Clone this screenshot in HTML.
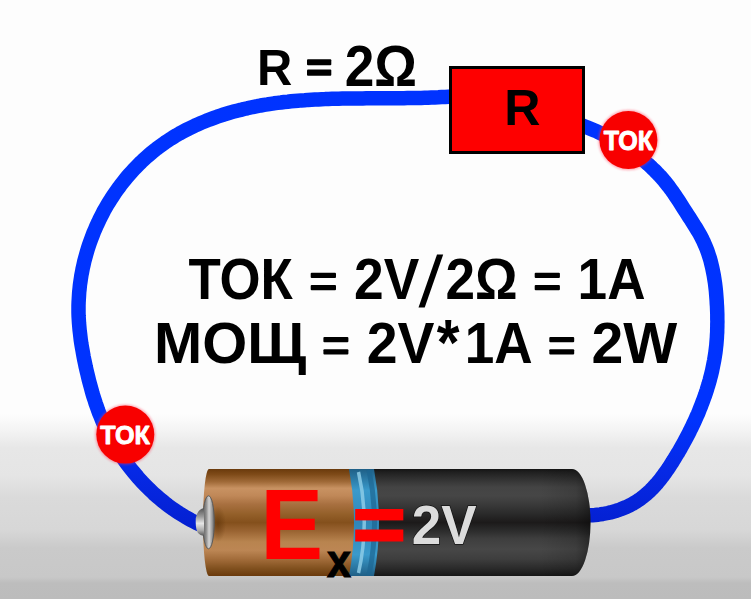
<!DOCTYPE html>
<html><head><meta charset="utf-8">
<style>
html,body{margin:0;padding:0;background:#fdfdfd;}
body{width:751px;height:599px;overflow:hidden;position:relative;}
svg{position:absolute;left:0;top:0;display:block;}
text{font-family:"Liberation Sans",sans-serif;font-weight:bold;font-size:100px;}
</style></head><body>
<svg width="751" height="599" viewBox="0 0 751 599">
<defs>
<linearGradient id="bg" x1="0" y1="0" x2="0" y2="599" gradientUnits="userSpaceOnUse">
<stop offset="0" stop-color="#fdfdfd"/>
<stop offset="0.6912" stop-color="#fdfdfd"/>
<stop offset="0.7195" stop-color="#f3f3f3"/>
<stop offset="0.7479" stop-color="#e7e7e7"/>
<stop offset="0.7947" stop-color="#e5e5e5"/>
<stop offset="0.8314" stop-color="#dadada"/>
<stop offset="0.8848" stop-color="#d7d7d7"/>
<stop offset="0.9149" stop-color="#cacaca"/>
<stop offset="0.9633" stop-color="#c8c8c8"/>
<stop offset="0.9733" stop-color="#bdbdbd"/>
<stop offset="1" stop-color="#bcbcbc"/>
</linearGradient>
<linearGradient id="wire" x1="0" y1="0" x2="0" y2="599" gradientUnits="userSpaceOnUse">
<stop offset="0" stop-color="#0033ff"/>
<stop offset="0.7012" stop-color="#0033fe"/>
<stop offset="0.7846" stop-color="#0629e6"/>
<stop offset="0.8765" stop-color="#0420d2"/>
<stop offset="1" stop-color="#0420d2"/>
</linearGradient>
<linearGradient id="cu" x1="0" y1="469" x2="0" y2="576" gradientUnits="userSpaceOnUse">
<stop offset="0" stop-color="#6a3a0c"/>
<stop offset="0.05" stop-color="#7e4a18"/>
<stop offset="0.12" stop-color="#a06a38"/>
<stop offset="0.18" stop-color="#c89262"/>
<stop offset="0.25" stop-color="#c08858"/>
<stop offset="0.33" stop-color="#a87040"/>
<stop offset="0.42" stop-color="#94602a"/>
<stop offset="0.50" stop-color="#84501c"/>
<stop offset="0.58" stop-color="#9a6432"/>
<stop offset="0.68" stop-color="#b8844f"/>
<stop offset="0.76" stop-color="#bc8654"/>
<stop offset="0.85" stop-color="#a06a38"/>
<stop offset="0.93" stop-color="#80501e"/>
<stop offset="1" stop-color="#6a3a0c"/>
</linearGradient>
<linearGradient id="bk" x1="0" y1="469" x2="0" y2="576" gradientUnits="userSpaceOnUse">
<stop offset="0" stop-color="#141414"/>
<stop offset="0.03" stop-color="#202020"/>
<stop offset="0.10" stop-color="#333333"/>
<stop offset="0.17" stop-color="#444444"/>
<stop offset="0.25" stop-color="#464646"/>
<stop offset="0.33" stop-color="#3a3a3a"/>
<stop offset="0.42" stop-color="#2a2a2a"/>
<stop offset="0.50" stop-color="#1c1a1a"/>
<stop offset="0.57" stop-color="#2a2a2a"/>
<stop offset="0.65" stop-color="#3e3e3e"/>
<stop offset="0.75" stop-color="#474747"/>
<stop offset="0.84" stop-color="#3e3e3e"/>
<stop offset="0.93" stop-color="#2a2a2a"/>
<stop offset="1" stop-color="#161616"/>
</linearGradient>
<linearGradient id="rim" x1="540" y1="0" x2="591" y2="0" gradientUnits="userSpaceOnUse">
<stop offset="0" stop-color="#000" stop-opacity="0"/>
<stop offset="0.7" stop-color="#000" stop-opacity="0.12"/>
<stop offset="1" stop-color="#000" stop-opacity="0.4"/>
</linearGradient>
<linearGradient id="bl" x1="0" y1="469" x2="0" y2="576" gradientUnits="userSpaceOnUse">
<stop offset="0" stop-color="#1f5f86"/>
<stop offset="0.2" stop-color="#3a9acb"/>
<stop offset="0.5" stop-color="#2f86b8"/>
<stop offset="0.8" stop-color="#3a9acb"/>
<stop offset="1" stop-color="#1f5f86"/>
</linearGradient>
<linearGradient id="metal" x1="0" y1="0" x2="1" y2="0">
<stop offset="0" stop-color="#5e5e5e"/>
<stop offset="0.3" stop-color="#8e8e8e"/>
<stop offset="0.55" stop-color="#d4d4d4"/>
<stop offset="0.75" stop-color="#a8a8a8"/>
<stop offset="1" stop-color="#666"/>
</linearGradient>
<linearGradient id="nub" x1="0" y1="0" x2="0" y2="1">
<stop offset="0" stop-color="#555"/>
<stop offset="0.3" stop-color="#999"/>
<stop offset="0.55" stop-color="#e6e6e6"/>
<stop offset="0.8" stop-color="#aaa"/>
<stop offset="1" stop-color="#555"/>
</linearGradient>
<radialGradient id="shadow" cx="0.5" cy="0.5" r="0.5">
<stop offset="0" stop-color="#5a3006" stop-opacity="0.55"/>
<stop offset="1" stop-color="#5a3006" stop-opacity="0"/>
</radialGradient>
<filter id="soft" x="-20%" y="-20%" width="140%" height="140%"><feGaussianBlur stdDeviation="0.9"/></filter>
</defs>
<rect x="0" y="0" width="751" height="599" fill="url(#bg)"/>
<path d="M452.0,96.5 L448.6,96.7 L445.2,96.9 L441.7,97.1 L438.3,97.3 L434.9,97.4 L431.4,97.5 L428.0,97.7 L424.6,97.8 L421.1,97.9 L417.7,98.0 L414.3,98.0 L410.8,98.1 L407.4,98.1 L404.0,98.2 L400.5,98.2 L397.1,98.2 L393.6,98.2 L390.2,98.3 L386.8,98.3 L383.3,98.3 L379.9,98.3 L376.5,98.3 L373.0,98.3 L369.6,98.3 L366.2,98.3 L362.8,98.4 L359.3,98.4 L355.9,98.4 L352.5,98.4 L349.1,98.5 L345.6,98.5 L342.2,98.6 L338.8,98.7 L335.4,98.7 L331.9,98.8 L328.5,98.9 L325.1,99.1 L321.7,99.2 L318.3,99.4 L314.9,99.5 L311.5,99.7 L308.1,99.9 L304.7,100.2 L301.3,100.4 L297.9,100.7 L294.5,101.0 L291.1,101.3 L287.7,101.7 L284.3,102.0 L280.9,102.5 L277.5,102.9 L274.1,103.3 L270.7,103.8 L267.4,104.4 L264.0,104.9 L260.6,105.5 L257.2,106.2 L253.9,106.8 L250.5,107.5 L247.2,108.3 L243.8,109.0 L240.5,109.9 L237.1,110.7 L233.8,111.6 L230.4,112.5 L227.1,113.5 L223.8,114.5 L220.5,115.6 L217.2,116.7 L214.0,117.9 L210.7,119.1 L207.5,120.3 L204.3,121.6 L201.1,122.9 L197.9,124.3 L194.8,125.7 L191.7,127.2 L188.6,128.7 L185.5,130.3 L182.5,131.9 L179.5,133.5 L176.5,135.2 L173.6,137.0 L170.7,138.8 L167.8,140.7 L165.0,142.6 L162.2,144.6 L159.4,146.6 L156.7,148.6 L154.0,150.7 L151.4,152.9 L148.8,155.1 L146.2,157.4 L143.7,159.7 L141.2,162.0 L138.8,164.4 L136.4,166.8 L134.0,169.3 L131.7,171.8 L129.4,174.4 L127.2,176.9 L125.0,179.6 L122.9,182.2 L120.8,184.9 L118.8,187.7 L116.7,190.5 L114.8,193.3 L112.9,196.1 L111.0,199.0 L109.2,201.9 L107.4,204.8 L105.7,207.8 L104.0,210.7 L102.4,213.8 L100.9,216.8 L99.3,219.9 L97.9,223.0 L96.4,226.1 L95.1,229.2 L93.7,232.4 L92.5,235.6 L91.3,238.8 L90.1,242.0 L89.0,245.2 L87.9,248.5 L86.9,251.8 L86.0,255.1 L85.1,258.4 L84.2,261.7 L83.5,265.0 L82.7,268.4 L82.1,271.7 L81.4,275.1 L80.9,278.5 L80.4,281.9 L79.9,285.3 L79.6,288.7 L79.2,292.1 L79.0,295.5 L78.8,298.9 L78.6,302.4 L78.5,305.8 L78.5,309.2 L78.5,312.6 L78.6,316.1 L78.8,319.5 L79.0,322.9 L79.3,326.4 L79.6,329.8 L80.0,333.2 L80.4,336.6 L80.8,340.1 L81.3,343.5 L81.9,346.9 L82.5,350.3 L83.1,353.7 L83.7,357.1 L84.4,360.5 L85.1,363.8 L85.8,367.2 L86.6,370.6 L87.4,373.9 L88.2,377.2 L89.0,380.6 L89.9,383.9 L90.8,387.2 L91.7,390.5 L92.6,393.8 L93.6,397.0 L94.7,400.3 L95.7,403.5 L96.9,406.8 L98.0,410.0 L99.2,413.2 L100.5,416.3 L101.8,419.5 L103.1,422.6 L104.5,425.7 L106.0,428.8 L107.5,431.9 L109.1,434.9 L110.6,437.9 L112.3,440.9 L114.0,443.9 L115.7,446.9 L117.5,449.8 L119.4,452.7 L121.2,455.5 L123.2,458.4 L125.1,461.2 L127.1,463.9 L129.2,466.7 L131.3,469.4 L133.5,472.0 L135.7,474.7 L137.9,477.3 L140.2,479.8 L142.5,482.4 L144.9,484.8 L147.3,487.3 L149.7,489.7 L152.2,492.0 L154.7,494.4 L157.3,496.6 L159.9,498.9 L162.5,501.0 L165.2,503.2 L167.9,505.3 L170.7,507.3 L173.5,509.3 L176.3,511.2 L179.2,513.1 L182.1,514.9 L185.0,516.7 L188.0,518.4 L191.0,520.1 L194.0,521.7 L197.1,523.3 L200.2,524.8" fill="none" stroke="url(#wire)" stroke-width="14.5" stroke-linejoin="round"/>
<path d="M582.0,125.4 L584.4,126.3 L586.8,127.2 L589.2,128.2 L591.6,129.2 L594.0,130.2 L596.3,131.2 L598.7,132.3 L601.0,133.4 L603.3,134.5 L605.7,135.7 L608.0,136.9 L610.2,138.1 L612.5,139.3 L614.8,140.6 L617.0,141.8 L619.2,143.2 L621.4,144.5 L623.6,145.9 L625.8,147.3 L628.0,148.7 L630.1,150.1 L632.2,151.6 L634.3,153.1 L636.4,154.6 L638.4,156.2 L640.4,157.8 L642.4,159.4 L644.4,161.0 L646.3,162.7 L648.3,164.4 L650.2,166.1 L652.0,167.9 L653.9,169.7 L655.7,171.5 L657.5,173.3 L659.2,175.2 L661.0,177.0 L662.7,179.0 L664.3,180.9 L665.9,182.9 L667.5,184.9 L669.1,186.9 L670.6,189.0 L672.1,191.0 L673.6,193.1 L675.1,195.3 L676.5,197.4 L677.9,199.5 L679.3,201.7 L680.7,203.9 L682.1,206.1 L683.5,208.3 L684.9,210.4 L686.3,212.6 L687.7,214.8 L689.1,217.0 L690.5,219.2 L691.9,221.4 L693.3,223.6 L694.7,225.8 L696.1,228.0 L697.4,230.2 L698.7,232.4 L700.0,234.6 L701.2,236.9 L702.3,239.2 L703.5,241.5 L704.5,243.8 L705.5,246.1 L706.5,248.5 L707.4,250.9 L708.2,253.3 L709.0,255.7 L709.8,258.1 L710.5,260.5 L711.1,263.0 L711.7,265.5 L712.3,268.0 L712.8,270.5 L713.3,273.0 L713.8,275.5 L714.2,278.0 L714.6,280.6 L715.0,283.1 L715.3,285.7 L715.6,288.2 L715.9,290.8 L716.1,293.4 L716.3,295.9 L716.5,298.5 L716.7,301.1 L716.8,303.7 L717.0,306.3 L717.1,308.9 L717.2,311.5 L717.3,314.0 L717.3,316.6 L717.3,319.2 L717.4,321.8 L717.3,324.4 L717.3,327.0 L717.2,329.6 L717.2,332.1 L717.0,334.7 L716.9,337.3 L716.7,339.8 L716.5,342.4 L716.3,345.0 L716.0,347.5 L715.7,350.1 L715.4,352.6 L715.0,355.1 L714.6,357.7 L714.2,360.2 L713.7,362.7 L713.2,365.2 L712.7,367.7 L712.2,370.2 L711.6,372.7 L711.0,375.2 L710.3,377.7 L709.7,380.2 L709.0,382.6 L708.3,385.1 L707.5,387.5 L706.8,390.0 L706.0,392.4 L705.2,394.9 L704.3,397.3 L703.4,399.7 L702.5,402.1 L701.6,404.5 L700.7,406.9 L699.7,409.3 L698.8,411.7 L697.8,414.1 L696.7,416.4 L695.7,418.8 L694.6,421.2 L693.5,423.5 L692.4,425.8 L691.3,428.2 L690.1,430.5 L689.0,432.8 L687.8,435.1 L686.6,437.4 L685.4,439.7 L684.2,441.9 L682.9,444.2 L681.6,446.5 L680.4,448.7 L679.1,451.0 L677.8,453.2 L676.4,455.4 L675.1,457.6 L673.7,459.8 L672.4,462.0 L671.0,464.2 L669.6,466.4 L668.2,468.5 L666.7,470.6 L665.2,472.7 L663.7,474.8 L662.2,476.8 L660.7,478.9 L659.1,480.8 L657.5,482.8 L655.8,484.7 L654.1,486.6 L652.4,488.4 L650.6,490.2 L648.8,491.9 L646.9,493.6 L645.0,495.2 L643.1,496.8 L641.1,498.3 L639.0,499.8 L636.9,501.2 L634.7,502.6 L632.5,503.9 L630.2,505.1 L627.9,506.2 L625.5,507.3 L623.1,508.3 L620.6,509.3 L618.1,510.2 L615.6,511.0 L613.0,511.7 L610.5,512.4 L607.9,513.0 L605.3,513.5 L602.7,514.0 L600.1,514.4 L597.6,514.7 L595.0,515.0 L592.4,515.2 L589.9,515.3 L587.4,515.4 L584.9,515.3" fill="none" stroke="url(#wire)" stroke-width="14.5" stroke-linejoin="round"/>
<!-- resistor -->
<rect x="450.5" y="67.5" width="133" height="85" fill="#fe0000" stroke="#000" stroke-width="3"/>
<!-- battery -->
<path d="M209,469 L351,469 Q360,522.5 351,576 L209,576 A6,53.5 0 0 1 209,469 Z" fill="url(#cu)"/>
<ellipse cx="218" cy="524" rx="8" ry="18" fill="url(#shadow)"/>
<path d="M349,469 L375,469 Q385,522.5 375,576 L349,576 Q359,522.5 349,469 Z" fill="url(#bl)"/>
<path d="M369,470 Q380,522.5 369,575" fill="none" stroke="#1d6592" stroke-width="5" opacity="0.7"/>
<path d="M358.5,472 Q370,522.5 358.5,573" fill="none" stroke="#8ccbe6" stroke-width="3.5" opacity="0.85"/>
<path d="M374,469 L572,469 A18.5,53.5 0 0 1 572,576 L374,576 Q384,522.5 374,469 Z" fill="url(#bk)"/>
<path d="M540,469 L572,469 A18.5,53.5 0 0 1 572,576 L540,576 Z" fill="url(#rim)"/>
<ellipse cx="208.5" cy="522.3" rx="5.8" ry="26.5" fill="url(#metal)" stroke="#5a5a5a" stroke-width="1"/>
<path d="M204,508 Q199,509 197,514 Q195.5,517 195.7,522 Q195.8,530 198,533 Q200,535.5 204,536 Z" fill="url(#nub)"/>
<!-- circles -->
<circle cx="628.4" cy="140" r="30.2" fill="#ff3050" opacity="0.4" filter="url(#soft)"/>
<circle cx="628.4" cy="140" r="29" fill="#f80000"/>
<circle cx="125.3" cy="434.6" r="30.2" fill="#ff3050" opacity="0.4" filter="url(#soft)"/>
<circle cx="125.3" cy="434.6" r="29" fill="#f80000"/>
<rect x="307.0" y="59.3" width="24.3" height="6.0" rx="1" fill="#000"/><rect x="307.0" y="69.6" width="24.3" height="6.1" rx="1" fill="#000"/><rect x="310.7" y="272.7" width="25.3" height="5.3" rx="1" fill="#000"/><rect x="310.7" y="285.0" width="25.3" height="5.3" rx="1" fill="#000"/><rect x="534.7" y="272.7" width="25.2" height="5.3" rx="1" fill="#000"/><rect x="534.7" y="285.0" width="25.2" height="5.3" rx="1" fill="#000"/><rect x="323.4" y="337.0" width="25.0" height="5.3" rx="1" fill="#000"/><rect x="323.4" y="349.3" width="25.0" height="5.3" rx="1" fill="#000"/><rect x="549.3" y="337.0" width="24.9" height="5.3" rx="1" fill="#000"/><rect x="549.3" y="349.3" width="24.9" height="5.3" rx="1" fill="#000"/>
<polygon points="437,254.5 443.2,254.5 424.7,307.6 418.5,307.6" fill="#000"/>
<rect x="355.2" y="509.0" width="48.1" height="11.4" rx="0" fill="#ff0000"/><rect x="355.2" y="529.5" width="48.1" height="12.0" rx="0" fill="#ff0000"/>
<text transform="translate(256.98,84.80) scale(0.4889,0.5043)" fill="#000" >R</text>
<text transform="translate(344.70,86.20) scale(0.5326,0.5681)" fill="#000" >2Ω</text>
<text transform="translate(504.19,124.50) scale(0.5016,0.5029)" fill="#000" >R</text>
<text transform="translate(188.47,299.20) scale(0.5281,0.5725)" fill="#000" >ТОК</text>
<text transform="translate(354.10,299.20) scale(0.5336,0.5725)" fill="#000" >2V</text>
<text transform="translate(445.41,299.20) scale(0.5310,0.5725)" fill="#000" >2Ω</text>
<text transform="translate(577.61,299.20) scale(0.5311,0.5725)" fill="#000" >1A</text>
<text transform="translate(153.95,363.00) scale(0.5788,0.5652)" fill="#000" >МОЩ</text>
<text transform="translate(366.74,363.00) scale(0.5538,0.5652)" fill="#000" >2V</text>
<text transform="translate(464.71,363.00) scale(0.5319,0.5652)" fill="#000" >1A</text>
<text transform="translate(591.48,363.00) scale(0.5721,0.5652)" fill="#000" >2W</text>
<text transform="translate(436.70,364.56) scale(0.5846,0.6486)" fill="#000" >*</text>
<text transform="translate(603.65,149.70) scale(0.2510,0.2725)" fill="#fff" stroke="#fff" stroke-width="3.5" stroke-linejoin="round">ТОК</text>
<text transform="translate(100.15,443.90) scale(0.2515,0.2652)" fill="#fff" stroke="#fff" stroke-width="3.5" stroke-linejoin="round">ТОК</text>
<text transform="translate(260.30,558.70) scale(0.9429,0.9928)" fill="#ff0000" >E</text>
<text transform="translate(326.97,577.00) scale(0.4315,0.4547)" fill="#000" stroke="#000" stroke-width="2.2">x</text>
<text transform="translate(411.71,543.80) scale(0.5294,0.5623)" fill="#dcdcdc" stroke="#111" stroke-width="2.5" paint-order="stroke">2V</text>
</svg>
</body></html>
